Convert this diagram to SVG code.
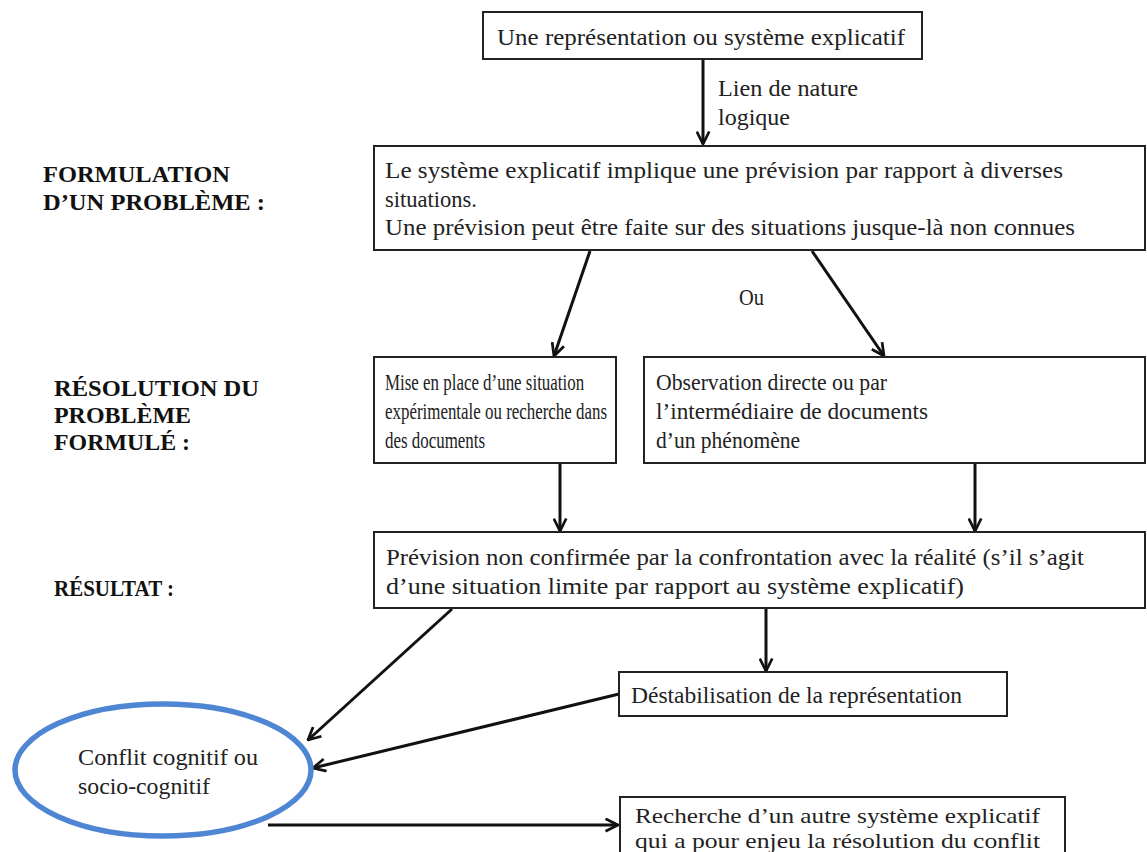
<svg xmlns="http://www.w3.org/2000/svg" width="1147" height="852" viewBox="0 0 1147 852">
<defs>
<style>
.box{fill:#fff;stroke:#222;stroke-width:2}
.t{font-family:"Liberation Serif","Times New Roman",serif;font-size:24px;fill:#222}
.s{font-size:22px}
.h{font-family:"Liberation Serif","Times New Roman",serif;font-size:24px;font-weight:bold;fill:#111}
.c{stroke:#111;stroke-width:3;fill:none;marker-end:url(#ah)}
</style>
<marker id="ah" viewBox="0 0 12 12" refX="11" refY="6" markerWidth="5" markerHeight="5" orient="auto" markerUnits="strokeWidth">
<path d="M1,1 L11,6 L1,11" fill="none" stroke="#111" stroke-width="2.2"/>
</marker>
</defs>
<rect width="1147" height="852" fill="#fff"/>
<g id="labels">
<text class="h" x="43" y="182" textLength="187" lengthAdjust="spacingAndGlyphs">FORMULATION</text>
<text class="h" x="43" y="210" textLength="222" lengthAdjust="spacingAndGlyphs">D’UN PROBLÈME :</text>
<text class="h" x="54" y="396" textLength="205" lengthAdjust="spacingAndGlyphs">RÉSOLUTION DU</text>
<text class="h" x="54" y="423" textLength="137" lengthAdjust="spacingAndGlyphs">PROBLÈME</text>
<text class="h" x="54" y="450" textLength="136" lengthAdjust="spacingAndGlyphs">FORMULÉ :</text>
<text class="h" x="54" y="596" textLength="120" lengthAdjust="spacingAndGlyphs">RÉSULTAT :</text>
</g>
<g id="connectors">
<line class="c" x1="703" y1="59" x2="703" y2="144"/>
<line class="c" x1="590" y1="251" x2="554" y2="356"/>
<line class="c" x1="812" y1="251" x2="884" y2="356"/>
<line class="c" x1="560" y1="464" x2="560" y2="531"/>
<line class="c" x1="975" y1="464" x2="975" y2="531"/>
<line class="c" x1="452" y1="609" x2="308" y2="740"/>
<line class="c" x1="766" y1="609" x2="766" y2="671"/>
<line class="c" x1="619" y1="694" x2="313" y2="768"/>
<line class="c" x1="268" y1="825" x2="618" y2="825"/>
<text class="t" x="718" y="96" textLength="140" lengthAdjust="spacingAndGlyphs">Lien de nature</text>
<text class="t" x="718" y="125" textLength="72" lengthAdjust="spacingAndGlyphs">logique</text>
<text class="t" x="739" y="305" textLength="25" lengthAdjust="spacingAndGlyphs">Ou</text>
</g>
<g id="n1">
<rect class="box" x="483" y="12" width="439" height="47"/>
<text class="t" x="497" y="45" textLength="408" lengthAdjust="spacingAndGlyphs">Une représentation ou système explicatif</text>
</g>
<g id="n2">
<rect class="box" x="374" y="146" width="771" height="104"/>
<text class="t" x="385" y="178" textLength="678" lengthAdjust="spacingAndGlyphs">Le système explicatif implique une prévision par rapport à diverses</text>
<text class="t" x="385" y="207" textLength="92" lengthAdjust="spacingAndGlyphs">situations.</text>
<text class="t" x="385" y="235" textLength="690" lengthAdjust="spacingAndGlyphs">Une prévision peut être faite sur des situations jusque-là non connues</text>
</g>
<g id="n3">
<rect class="box" x="374" y="357" width="242" height="106"/>
<g transform="translate(385,0) scale(0.705,1)">
<text class="t" x="0" y="390">Mise en place d’une situation</text>
<text class="t" x="0" y="419">expérimentale ou recherche dans</text>
<text class="t" x="0" y="448">des documents</text>
</g>
</g>
<g id="n4">
<rect class="box" x="644" y="357" width="501" height="106"/>
<text class="t" x="656" y="390" textLength="231" lengthAdjust="spacingAndGlyphs">Observation directe ou par</text>
<text class="t" x="656" y="419" textLength="272" lengthAdjust="spacingAndGlyphs">l’intermédiaire de documents</text>
<text class="t" x="656" y="448" textLength="144" lengthAdjust="spacingAndGlyphs">d’un phénomène</text>
</g>
<g id="n5">
<rect class="box" x="374" y="532" width="771" height="76"/>
<text class="t" x="386" y="565" textLength="698" lengthAdjust="spacingAndGlyphs">Prévision non confirmée par la confrontation avec la réalité (s’il s’agit</text>
<text class="t" x="386" y="594" textLength="578" lengthAdjust="spacingAndGlyphs">d’une situation limite par rapport au système explicatif)</text>
</g>
<g id="n6">
<rect class="box" x="619" y="672" width="388" height="44"/>
<text class="t" x="631" y="703" textLength="331" lengthAdjust="spacingAndGlyphs">Déstabilisation de la représentation</text>
</g>
<g id="n7">
<ellipse cx="163" cy="770" rx="148" ry="66" fill="#fff" stroke="#4f86d4" stroke-width="5.5"/>
<text class="t" x="78" y="765" textLength="180" lengthAdjust="spacingAndGlyphs">Conflit cognitif ou</text>
<text class="t" x="78" y="794" textLength="132" lengthAdjust="spacingAndGlyphs">socio-cognitif</text>
</g>
<g id="n8">
<rect class="box" x="620" y="797" width="445" height="70"/>
<text class="t s" x="635" y="823" textLength="405" lengthAdjust="spacingAndGlyphs">Recherche d’un autre système explicatif</text>
<text class="t s" x="635" y="848" textLength="405" lengthAdjust="spacingAndGlyphs">qui a pour enjeu la résolution du conflit</text>
</g>
</svg>
